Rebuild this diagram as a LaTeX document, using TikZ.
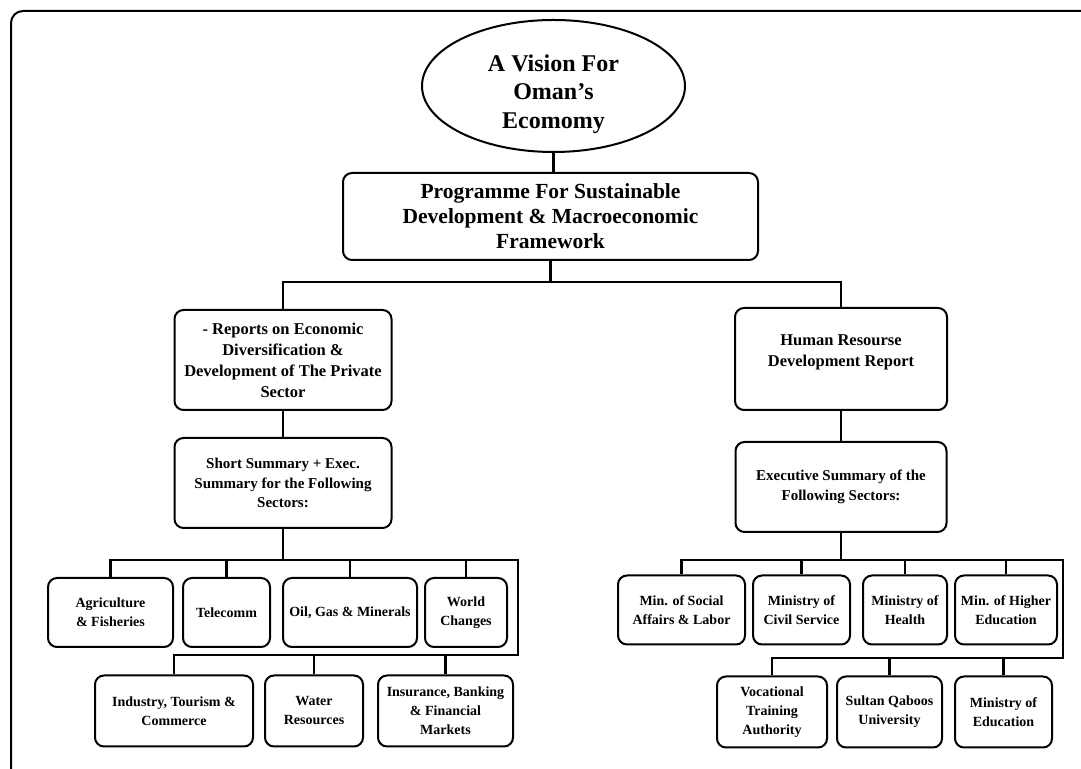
\documentclass[tikz,border=0pt]{standalone}
\usepackage{fontspec}
\setmainfont{Liberation Serif}
\usetikzlibrary{positioning,shapes.geometric}

\tikzset{
  box/.style={draw, line width=2pt, rounded corners=9pt, align=center, inner sep=2pt},
  vision/.style={draw, ellipse, line width=2pt, align=center, inner sep=0pt},
  link/.style={line width=2.4pt},
  big/.style={font=\bfseries\fontsize{21.5}{25}\selectfont},
  mid/.style={font=\bfseries\fontsize{16.5}{21}\selectfont},
  small/.style={font=\bfseries\fontsize{15}{19.5}\selectfont},
  tiny/.style={font=\bfseries\fontsize{14}{19}\selectfont},
  rowa/.style={box, tiny, minimum height=69pt},
  rowb/.style={box, tiny, minimum height=71pt}
}

\begin{document}
\begin{tikzpicture}[x=1pt,y=1pt,on grid]
\useasboundingbox (0,0) rectangle (1081,768);
\clip (0,0) rectangle (1081,768);
% outer frame
\draw[line width=2pt, rounded corners=12pt] (11,-30) rectangle (1110,757);

% top of the tree
\node[vision, minimum width=263pt, minimum height=132pt] (vision) at (553.5,682) {};
\node[align=center, font=\bfseries\fontsize{24}{28.5}\selectfont, yshift=-8pt] (visiontext) at (vision) {A Vision For\\Oman's\\Ecomomy};
\node[box, big, minimum width=415pt, minimum height=87pt] (prog) [below left=130.5pt and 3pt of vision] {Programme For Sustainable\\Development \& Macroeconomic\\Framework};

% the two reports
\node[box, mid, minimum width=217pt, minimum height=100pt] (reports) [below left=143.5pt and 267.5pt of prog] {- Reports on Economic\\Diversification \&\\Development of The Private\\Sector};
\node[box, mid, minimum width=212pt, minimum height=102pt] (hrd) [below right=142.5pt and 290.5pt of prog] {Human Resourse\\Development Report\\[-5pt]};
\node[box, small, minimum width=217pt, minimum height=90pt] (short) [below=123pt of reports] {Short Summary + Exec.\\Summary for the Following\\Sectors:};
\node[box, small, minimum width=211pt, minimum height=90pt] (exec) [below=128pt of hrd] {Executive Summary of the\\Following Sectors:};

% left sectors
\node[rowa, minimum width=125pt] (agri) [below left=129.5pt and 172.5pt of short] {Agriculture\\\& Fisheries};
\node[rowa, minimum width=87pt] (tele) [right=116pt of agri] {Telecomm};
\node[rowa, minimum width=134pt] (oil) [right=123.5pt of tele] {Oil, Gas \& Minerals};
\node[rowa, minimum width=82pt] (world) [right=116pt of oil] {World\\Changes};
\node[rowb, minimum width=158pt] (industry) [below right=98.5pt and 63.5pt of agri] {Industry, Tourism \&\\Commerce};
\node[rowb, minimum width=98pt] (water) [right=140pt of industry] {Water\\Resources};
\node[rowb, minimum width=135pt] (insur) [right=131.5pt of water] {Insurance, Banking\\\& Financial\\Markets};

% right sectors
\node[rowa, minimum width=127pt] (social) [below left=123pt and 159.5pt of exec] {Min. of Social\\Affairs \& Labor};
\node[rowa, minimum width=97pt] (civil) [right=120pt of social] {Ministry of\\Civil Service};
\node[rowa, minimum width=84pt] (health) [right=103.5pt of civil] {Ministry of\\Health};
\node[rowa, minimum width=102pt] (higher) [right=101pt of health] {Min. of Higher\\Education};
\node[rowb, minimum width=110pt] (voc) [below right=102pt and 90.5pt of social] {Vocational\\Training\\Authority};
\node[rowb, minimum width=105pt] (sultan) [right=117.5pt of voc] {Sultan Qaboos\\University};
\node[rowb, minimum width=97pt] (mined) [right=114pt of sultan] {Ministry of\\Education};

% connectors
\coordinate (split) at (551,486);
\coordinate (lbus) at (518,208);
\coordinate (lbus2) at (518,113);
\coordinate (rbus) at (1063,208);
\coordinate (rbus2) at (1063,110);

\draw[link] (vision.south) -- (vision.south |- prog.north);
\draw[link] (prog.south) -- (prog.south |- split);
\draw[link] (reports.north) |- (split) -| (hrd.north);
\draw[link] (reports) -- (short);
\draw[link] (hrd) -- (exec);

\draw[link] (short.south) -- (short.south |- lbus);
\draw[link] (agri.north) |- (lbus) -- (lbus2) -| (industry.north);
\foreach \n in {tele,oil,world}
  \draw[link] (\n.north) -- (\n.north |- lbus);
\foreach \n in {water,insur}
  \draw[link] (\n.north) -- (\n.north |- lbus2);

\draw[link] (exec.south) -- (exec.south |- rbus);
\draw[link] (social.north) |- (rbus) -- (rbus2) -| (voc.north);
\foreach \n in {civil,health,higher}
  \draw[link] (\n.north) -- (\n.north |- rbus);
\foreach \n in {sultan,mined}
  \draw[link] (\n.north) -- (\n.north |- rbus2);
\end{tikzpicture}
\end{document}
